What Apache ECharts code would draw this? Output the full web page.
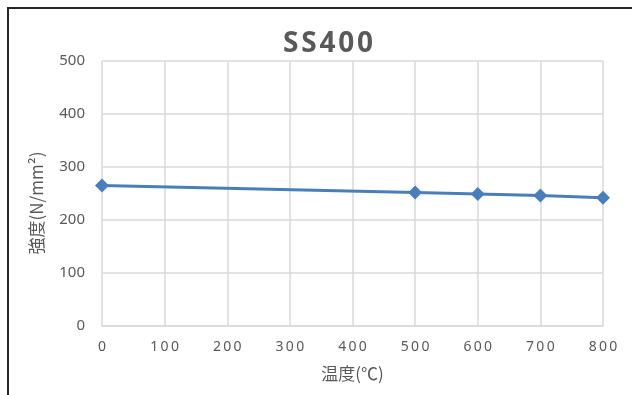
<!DOCTYPE html>
<html>
<head>
<meta charset="utf-8">
<script src="https://cdn.jsdelivr.net/npm/echarts@6/dist/echarts.min.js"></script>
<style>
  html, body { margin: 0; padding: 0; background: #fff; }
  #chart { width: 632px; height: 395px; }
</style>
</head>
<body>
<div id="chart"></div>
<script>
// Temperature (°C) and strength (N/mm²) of SS400 steel
const temperatures = [0, 500, 600, 700, 800];
const strengths = [265, 252, 249, 246, 242];
const chartTitle = 'SS400';
const xAxisName = '温度(℃)';
const yAxisName = '強度(N/mm²)';

const spaced = (v, sep) => String(v).split('').join(sep || '\u2009');
const textColor = '#595959';
const gridColor = '#d9d9d9';

const chart = echarts.init(document.getElementById('chart'), null, { renderer: 'canvas' });
chart.setOption({
  backgroundColor: '#ffffff',
  animation: false,
  title: {
    text: spaced(chartTitle, '\u200A'),
    left: 278,
    top: 25,
    textStyle: { fontFamily: 'Noto Sans', fontWeight: 'bold', fontSize: 28, color: textColor }
  },
  graphic: [{
    type: 'rect',
    shape: { x: 8, y: 8, width: 700, height: 500 },
    style: { fill: 'none', stroke: '#262626', lineWidth: 2 },
    silent: true
  }, {
    type: 'text',
    x: 37,
    y: 203,
    rotation: Math.PI / 2,
    style: {
      text: yAxisName,
      fontFamily: 'Noto Sans CJK JP', fontSize: 17, fill: textColor,
      align: 'center', verticalAlign: 'middle'
    },
    silent: true
  }],
  grid: { left: 102, right: 29, top: 61, bottom: 69 },
  xAxis: {
    type: 'value',
    min: 0, max: 800, interval: 100,
    name: xAxisName,
    nameLocation: 'middle',
    nameGap: 39,
    nameTextStyle: { fontFamily: 'Noto Sans CJK JP', fontSize: 17, color: textColor },
    axisLine: { show: true, lineStyle: { color: gridColor, width: 1.5 } },
    axisTick: { show: false },
    axisLabel: {
      margin: 14,
      fontFamily: 'Noto Sans', fontSize: 14, color: textColor,
      formatter: v => spaced(v)
    },
    splitLine: { show: true, lineStyle: { color: gridColor, width: 1.5 } }
  },
  yAxis: {
    type: 'value',
    min: 0, max: 500, interval: 100,
    axisLine: { show: false },
    axisTick: { show: false },
    axisLabel: { margin: 17, fontFamily: 'Noto Sans', fontSize: 15, color: textColor },
    splitLine: { show: true, lineStyle: { color: gridColor, width: 1.5 } }
  },
  series: [{
    type: 'line',
    data: temperatures.map((t, i) => [t, strengths[i]]),
    symbol: 'diamond',
    symbolSize: 14,
    lineStyle: { color: '#4a7ebb', width: 3 },
    itemStyle: { color: '#4a7ebb' }
  }]
});
</script>
</body>
</html>
